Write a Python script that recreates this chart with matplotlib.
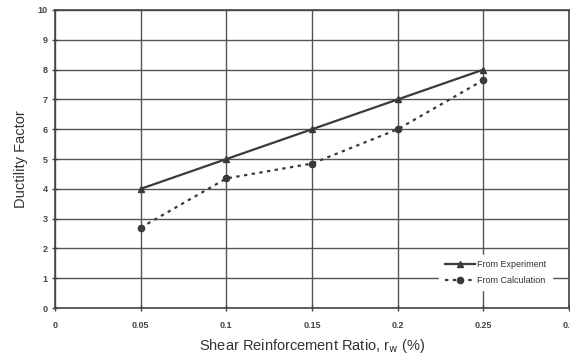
import matplotlib
matplotlib.use("Agg")
import matplotlib.pyplot as plt

plt.rcParams['font.family'] = ['Liberation Sans', 'DejaVu Sans']

ratio = [0.05, 0.10, 0.15, 0.20, 0.25]
experiment = [4.0, 5.0, 6.0, 7.0, 8.0]
calculation = [2.7, 4.35, 4.85, 6.0, 7.65]
xticks = [0, 0.05, 0.1, 0.15, 0.2, 0.25, 0.3]
xticklabels = ['0', '0.05', '0.1', '0.15', '0.2', '0.25', '0.3']
yticks = list(range(0, 11))

fig = plt.figure(figsize=(5.7, 3.57), dpi=100)
ax = fig.add_axes([0.0965, 0.137, 0.902, 0.835])
dark = '#3a3a3a'
ax.plot(ratio, experiment, color=dark, lw=1.6, marker='^', ms=4.5, label='From Experiment', zorder=3)
ax.plot(ratio, calculation, color=dark, lw=1.6, ls=(0, (1.5, 2)), marker='o', ms=4.5, label='From Calculation', zorder=3)

ax.set_xlim(0, 0.3)
ax.set_ylim(0, 10)
ax.set_xticks(xticks)
ax.set_xticklabels(xticklabels)
ax.set_yticks(yticks)
ax.grid(True, color='#555555', lw=1.0)
ax.set_axisbelow(True)
for s in ax.spines.values():
    s.set_color('#444444')
    s.set_linewidth(1.2)
ax.tick_params(axis='both', labelsize=6.5, colors='#444444', length=4, direction='inout', width=1)
for lab in ax.get_xticklabels() + ax.get_yticklabels():
    lab.set_fontweight('bold')
ax.tick_params(axis='x', pad=7)
ax.set_xlabel('Shear Reinforcement Ratio, r$_\\mathrm{w}$ (%)', fontsize=10.5, color='#333333', labelpad=5)
ax.set_ylabel('Ductility Factor', fontsize=10.5, color='#333333', labelpad=7)

leg = ax.legend(loc='lower right', bbox_to_anchor=(0.975, 0.045), frameon=True, fontsize=6.5,
                handlelength=3.4, handletextpad=0.2, borderpad=0.6, labelspacing=0.7, fancybox=False)
leg.get_frame().set_edgecolor('white')
leg.get_frame().set_facecolor('white')
leg.get_frame().set_alpha(1)
for t in leg.get_texts():
    t.set_color('#333333')

fig.savefig('out.png', dpi=100)
